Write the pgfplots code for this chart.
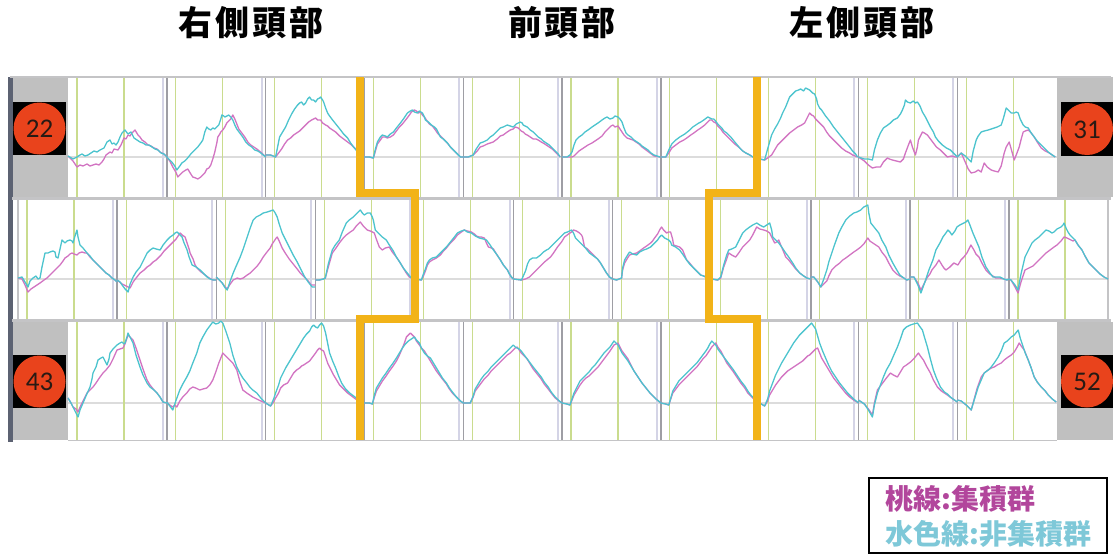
\documentclass[border=0pt]{standalone}
\usepackage{pgfplots}
\pgfplotsset{compat=1.18}
\usepackage{fontspec}
\newfontfamily\jp{Noto Sans CJK JP}
\newfontfamily\jpwide{Noto Sans CJK JP}[LetterSpace=8]
\newfontfamily\num{Carlito}

\definecolor{mag}{RGB}{210,116,194}
\definecolor{cya}{RGB}{76,196,206}
\definecolor{gold}{RGB}{242,179,24}
\definecolor{frame}{RGB}{196,196,198}
\definecolor{sepdark}{RGB}{158,158,164}
\definecolor{seplight}{RGB}{212,212,230}
\definecolor{onset}{RGB}{202,220,142}
\definecolor{base}{RGB}{220,220,220}
\definecolor{side}{RGB}{192,192,192}
\definecolor{edge}{RGB}{92,98,114}
\definecolor{badge}{RGB}{233,67,28}
\definecolor{badgetxt}{RGB}{40,26,20}
\definecolor{legm}{RGB}{178,70,156}
\definecolor{legc}{RGB}{126,200,216}

% one channel: left edge, baseline, oxy-Hb of the two groups (local px units)
\newcommand\chan[4]{%
  \addplot[mag, line width=1.3pt, line join=round,
    x filter/.expression={#1+x}, y filter/.expression={#2-y}] coordinates {#3};
  \addplot[cya, line width=1.3pt, line join=round,
    x filter/.expression={#1+x}, y filter/.expression={#2-y}] coordinates {#4};
}

\begin{document}
\begin{tikzpicture}
\begin{axis}[
  scale only axis, width=1113pt, height=557pt,
  xmin=0, xmax=1113, ymin=0, ymax=557, y dir=reverse,
  hide axis, clip=false]

\fill[white] (0,0) rectangle (1113,557);

% side blocks
\fill[side] (12,77) rectangle (68,197);
\fill[side] (12,322) rectangle (68,440);
\fill[side] (1057,77) rectangle (1113,197);
\fill[side] (1057,322) rectangle (1113,440);
\fill[edge] (8,77) rectangle (13,442);

% baselines
\draw[base, line width=1.2] (68,157) -- (1057,157);
\draw[base, line width=1.2] (18,279) -- (1108,279);
\draw[base, line width=1.2] (68,403) -- (1057,403);

% onset / offset markers and channel separators, rows 1 and 3
\pgfplotsinvokeforeach{0,...,9}{
  \draw[onset, line width=1.1] ({68+98.8*#1+9},77) -- ({68+98.8*#1+9},197);
  \draw[onset, line width=1.1] ({68+98.8*#1+56},77) -- ({68+98.8*#1+56},197);
  \draw[onset, line width=1.1] ({68+98.8*#1+9},322) -- ({68+98.8*#1+9},440);
  \draw[onset, line width=1.1] ({68+98.8*#1+56},322) -- ({68+98.8*#1+56},440);
}
\pgfplotsinvokeforeach{1,...,9}{
  \draw[seplight, line width=2] ({68+98.8*#1-4},77) -- ({68+98.8*#1-4},197);
  \draw[sepdark, line width=1.4] ({68+98.8*#1},77) -- ({68+98.8*#1},197);
  \draw[seplight, line width=2] ({68+98.8*#1-4},322) -- ({68+98.8*#1-4},440);
  \draw[sepdark, line width=1.4] ({68+98.8*#1},322) -- ({68+98.8*#1},440);
}
% row 2
\pgfplotsinvokeforeach{0,...,10}{
  \draw[onset, line width=1.1] ({18+99.1*#1+9},200) -- ({18+99.1*#1+9},320);
  \draw[onset, line width=1.1] ({18+99.1*#1+56},200) -- ({18+99.1*#1+56},320);
}
\pgfplotsinvokeforeach{1,...,10}{
  \draw[seplight, line width=2] ({18+99.1*#1-4},200) -- ({18+99.1*#1-4},320);
  \draw[sepdark, line width=1.4] ({18+99.1*#1},200) -- ({18+99.1*#1},320);
}

% frames
\draw[frame, line width=2.5] (10,77) -- (1111,77);
\draw[frame, line width=3] (12,198.5) -- (1111,198.5);
\draw[frame, line width=3] (12,320.5) -- (1111,320.5);
\draw[frame, line width=1.5] (68,440.5) -- (1057,440.5);
\draw[frame, line width=2] (18,200) -- (18,320);
\draw[frame, line width=2] (1108,200) -- (1108,320);

% ---- row 1: ch22 - ch31 ----
\chan{68}{157}
{(0,1)(5,-4)(9,-10)(12,-8)(15,-9)(19,-7)(22,-9)(25,-8)(28,-7)(31,-8)(34,-5)(36,-2)(38,2)(42,5)(44,4)(46,8)(50,7)(53,12)(56,19)(58,18)(60,22)(62,21)(64,24)(67,27)(70,22)(72,20)(74,17)(77,15)(80,12)(83,11)(86,9)(89,8)(92,5)(96,3)(99,0)}
{(0,1)(5,-2)(9,0)(12,2)(14,3)(17,1)(20,2)(23,4)(26,6)(29,5)(32,7)(36,9)(39,15)(42,17)(44,13)(46,14)(48,12)(50,15)(52,20)(54,24)(57,27)(60,23)(63,25)(66,19)(69,17)(72,15)(75,14)(78,12)(81,12)(84,10)(87,8)(90,7)(93,4)(96,3)(99,0)}
\chan{166.8}{157}
{(0,0)(3,-4)(6,-10)(9,-15)(11,-20)(14,-17)(16,-15)(19,-13)(21,-12)(24,-17)(26,-20)(29,-21)(31,-22)(34,-20)(36,-18)(38,-16)(40,-12)(42,-11)(44,-8)(46,-2)(48,5)(50,14)(51,20)(53,23)(54,25)(56,27)(58,30)(60,34)(62,36)(64,38)(66,42)(68,38)(70,33)(72,28)(75,24)(78,20)(81,15)(84,12)(87,10)(90,8)(95,4)(99,0)}
{(0,0)(5,-5)(8,-9)(10,-13)(13,-9)(15,-6)(18,-4)(20,-2)(24,3)(28,7)(31,10)(34,14)(36,17)(38,25)(40,30)(42,28)(44,27)(46,29)(48,28)(50,30)(52,32)(54,38)(55,42)(57,41)(58,40)(60,41)(62,42)(64,40)(66,37)(68,32)(70,28)(73,24)(76,20)(79,15)(82,12)(85,10)(88,7)(91,6)(94,4)(99,0)}
\chan{265.6}{157}
{(0,2)(5,2)(10,0)(13,4)(16,8)(19,13)(22,17)(25,19)(28,22)(31,24)(34,26)(37,29)(40,32)(43,35)(46,37)(48,38)(50,39)(52,37)(55,37)(57,34)(60,32)(62,31)(64,29)(67,27)(70,25)(74,21)(78,18)(82,15)(86,12)(89,9)(92,7)(96,3)(99,0)}
{(0,2)(5,2)(10,0)(12,10)(14,20)(17,25)(20,30)(23,37)(26,43)(29,48)(32,52)(34,54)(36,55)(38,52)(40,54)(42,58)(44,60)(46,57)(48,57)(50,55)(52,58)(54,59)(55,60)(57,57)(58,55)(60,49)(62,44)(64,41)(67,37)(71,32)(75,27)(78,23)(82,19)(85,14)(88,10)(92,5)(95,2)(99,0)}
\chan{364.4}{157}
{(0,0)(5,0)(9,-1)(11,6)(13,13)(16,17)(18,20)(21,20)(23,19)(26,20)(29,22)(32,26)(35,30)(38,33)(42,38)(45,42)(47,45)(50,47)(52,46)(54,44)(56,45)(58,42)(60,40)(62,37)(65,33)(68,31)(71,27)(73,24)(76,21)(79,18)(83,14)(86,10)(89,7)(92,4)(96,0)(99,0)}
{(0,0)(5,0)(9,-1)(11,8)(13,15)(16,20)(18,22)(21,21)(23,20)(26,23)(29,25)(32,29)(36,34)(39,38)(43,44)(46,46)(48,47)(50,45)(53,44)(55,46)(58,44)(60,40)(61,37)(64,35)(67,32)(70,30)(72,28)(74,24)(76,20)(79,18)(83,14)(86,10)(89,7)(92,4)(96,0)(99,0)}
\chan{463.2}{157}
{(0,0)(5,0)(10,2)(14,6)(17,10)(20,11)(24,13)(27,14)(30,15)(34,18)(37,21)(40,22)(44,25)(47,27)(50,28)(52,30)(55,29)(58,26)(60,25)(62,23)(64,22)(67,20)(70,18)(73,18)(75,17)(78,15)(80,14)(83,12)(86,10)(89,8)(92,5)(95,2)(97,0)}
{(0,0)(5,0)(10,2)(13,8)(17,14)(20,15)(24,17)(27,20)(30,22)(34,26)(37,29)(40,30)(44,32)(47,31)(50,30)(53,33)(57,35)(59,34)(60,32)(62,31)(64,30)(67,27)(70,25)(73,22)(75,20)(78,18)(80,16)(83,14)(86,12)(89,9)(92,6)(95,3)(97,0)}
\chan{562}{157}
{(0,0)(5,0)(10,0)(12,1)(14,3)(17,6)(20,8)(23,10)(26,12)(30,14)(33,16)(36,18)(40,21)(43,25)(46,28)(49,31)(51,32)(53,30)(56,31)(58,28)(60,25)(62,22)(65,19)(68,18)(71,17)(74,15)(77,13)(80,10)(84,7)(88,4)(92,1)(98,0)}
{(0,0)(5,0)(8,2)(10,5)(12,12)(14,17)(17,20)(20,22)(23,25)(26,27)(30,30)(33,32)(36,34)(40,37)(43,39)(45,40)(48,38)(51,39)(53,41)(56,40)(58,38)(60,35)(62,29)(64,24)(66,22)(69,20)(72,17)(75,15)(78,13)(80,11)(83,9)(86,7)(89,4)(92,2)(98,0)}
\chan{660.8}{157}
{(0,0)(5,0)(8,4)(11,9)(15,12)(19,15)(23,17)(26,19)(30,22)(33,24)(37,27)(40,29)(44,32)(47,35)(49,37)(51,37)(53,35)(55,34)(57,31)(60,28)(62,25)(65,22)(68,19)(70,17)(74,13)(79,9)(82,6)(85,4)(89,2)(92,0)(98,0)}
{(0,0)(5,0)(8,7)(11,13)(15,17)(19,20)(24,23)(29,27)(32,30)(35,32)(38,34)(40,35)(43,37)(47,40)(49,39)(51,38)(53,38)(54,37)(57,33)(61,29)(63,26)(66,24)(68,22)(70,20)(74,15)(79,9)(82,6)(85,4)(89,2)(92,0)(98,0)}
\chan{759.6}{157}
{(0,-2)(5,-3)(8,-1)(12,2)(15,7)(18,12)(21,15)(23,17)(27,21)(30,24)(34,27)(38,30)(42,32)(45,34)(47,38)(50,44)(52,42)(54,41)(56,38)(58,36)(61,33)(64,30)(67,25)(70,21)(74,17)(78,13)(82,9)(86,6)(90,4)(93,2)(98,0)}
{(0,-2)(5,-3)(8,8)(12,22)(15,28)(18,33)(21,39)(23,44)(26,50)(30,60)(33,63)(36,66)(39,67)(41,68)(44,66)(46,69)(48,68)(50,67)(53,64)(55,63)(57,58)(58,53)(60,49)(62,47)(66,41)(70,36)(74,30)(78,25)(82,20)(86,15)(90,10)(93,6)(96,3)(98,0)}
\chan{858.4}{157}
{(0,0)(3,-2)(6,-4)(10,-8)(14,-11)(18,-10)(22,-10)(25,-5)(27,-3)(29,-1)(31,-2)(34,-3)(38,-4)(42,-5)(45,-2)(47,4)(50,12)(52,17)(54,10)(57,2)(59,10)(60,17)(62,21)(64,25)(66,24)(69,22)(72,18)(75,14)(78,10)(82,7)(86,3)(89,0)(93,1)(97,0)(99,0)}
{(0,0)(3,-1)(6,-2)(10,-2)(14,-3)(16,7)(19,17)(22,24)(25,29)(28,31)(32,34)(35,37)(39,39)(42,43)(44,47)(46,52)(47,57)(49,55)(52,54)(55,56)(57,54)(59,55)(61,52)(62,50)(64,45)(67,40)(70,34)(72,30)(75,25)(77,20)(80,16)(84,12)(88,9)(92,7)(95,4)(97,2)(99,0)}
\chan{957.2}{157}
{(0,0)(4,4)(8,-5)(11,-12)(14,-16)(18,-15)(21,-13)(24,-15)(26,-9)(27,-6)(30,-10)(34,-13)(37,-14)(41,-15)(44,-9)(47,4)(49,10)(52,15)(54,8)(57,-3)(59,2)(62,10)(64,18)(66,25)(68,26)(71,27)(74,24)(77,20)(80,15)(84,9)(88,6)(92,4)(95,2)(98,0)}
{(0,0)(4,4)(8,1)(11,-2)(14,-5)(16,6)(19,17)(21,21)(24,25)(27,26)(31,27)(34,28)(37,29)(40,30)(44,32)(46,38)(49,49)(51,47)(54,44)(57,44)(59,45)(61,44)(63,38)(66,32)(68,30)(71,29)(74,24)(77,20)(80,16)(84,12)(88,8)(91,5)(95,2)(98,0)}

% ---- row 2: ch32 - ch42 ----
\chan{18}{279}
{(0,1)(4,0)(7,-6)(10,-13)(13,-10)(16,-8)(19,-6)(22,-4)(26,-1)(29,1)(32,4)(36,8)(39,11)(42,14)(45,18)(47,21)(50,23)(52,25)(54,26)(56,25)(59,24)(61,26)(64,27)(67,26)(69,26)(72,22)(75,19)(78,16)(82,12)(85,9)(88,6)(91,4)(94,1)(97,-1)(99,-3)}
{(0,1)(4,2)(7,-3)(10,-8)(12,-2)(15,1)(18,3)(20,0)(22,1)(24,12)(27,26)(30,26)(32,27)(35,28)(37,27)(38,22)(40,21)(42,30)(44,39)(46,37)(47,36)(49,38)(52,39)(54,38)(55,36)(57,43)(59,49)(60,42)(62,34)(65,31)(69,26)(72,23)(75,19)(78,16)(82,12)(85,9)(88,6)(91,4)(94,1)(97,-1)(99,-3)}
\chan{117.1}{279}
{(0,-1)(5,-5)(9,-7)(13,-9)(16,-3)(19,1)(23,6)(27,9)(30,12)(33,14)(36,17)(39,19)(41,21)(44,24)(47,28)(50,31)(53,34)(56,37)(59,40)(61,43)(63,46)(65,44)(68,42)(70,36)(72,30)(73,26)(76,20)(78,14)(80,11)(84,7)(88,4)(92,1)(96,-1)(99,-1)}
{(0,-1)(3,-3)(5,-6)(8,-10)(11,-13)(13,-5)(16,2)(19,7)(23,12)(26,18)(30,26)(33,29)(36,31)(39,30)(43,29)(46,34)(50,39)(53,42)(56,44)(58,46)(60,47)(62,45)(65,42)(67,36)(70,29)(72,22)(75,14)(79,12)(83,9)(86,6)(90,2)(93,0)(96,-1)(99,-1)}
\chan{216.2}{279}
{(0,2)(3,-1)(6,-4)(9,-8)(11,-10)(14,-5)(17,-1)(21,1)(24,0)(27,1)(31,4)(34,6)(37,9)(41,13)(44,17)(47,22)(50,26)(54,31)(56,35)(58,38)(60,41)(61,42)(63,38)(66,31)(69,26)(73,20)(77,15)(81,10)(84,6)(88,2)(92,-2)(95,-6)(99,-6)}
{(0,2)(3,-1)(6,-4)(9,-9)(11,-11)(14,-2)(17,6)(20,13)(24,22)(27,30)(31,42)(34,51)(37,59)(40,62)(44,64)(47,66)(51,67)(54,68)(57,69)(59,66)(61,62)(63,55)(66,46)(69,40)(73,32)(77,24)(81,17)(84,11)(88,3)(92,-3)(96,-8)(99,-8)}
\chan{315.3}{279}
{(0,-1)(4,-1)(8,0)(10,1)(13,12)(17,26)(20,30)(24,36)(28,41)(31,44)(35,47)(38,49)(41,53)(45,57)(48,53)(52,49)(55,48)(59,46)(61,40)(64,32)(67,29)(70,31)(74,32)(77,27)(81,22)(85,16)(88,11)(91,6)(94,2)(99,0)}
{(0,-1)(4,-1)(8,0)(10,1)(13,15)(17,29)(20,34)(24,39)(27,47)(31,56)(34,59)(38,62)(41,65)(45,69)(47,66)(49,64)(52,66)(55,66)(57,62)(58,59)(60,49)(63,46)(67,42)(71,39)(74,34)(78,28)(81,22)(85,16)(88,11)(92,6)(96,1)(99,0)}
\chan{414.4}{279}
{(0,0)(7,-1)(9,3)(11,8)(13,14)(15,17)(18,19)(22,21)(26,24)(29,28)(32,31)(36,36)(40,40)(43,44)(47,47)(50,49)(53,48)(57,47)(60,45)(62,43)(65,42)(67,42)(70,41)(72,36)(74,32)(77,31)(79,30)(82,25)(86,19)(89,14)(93,9)(95,5)(97,2)(99,0)}
{(0,0)(7,-1)(9,5)(11,10)(13,16)(15,19)(18,21)(22,22)(26,26)(29,29)(32,32)(36,37)(40,42)(43,46)(47,48)(50,49)(53,47)(57,46)(61,43)(65,41)(69,40)(72,39)(75,35)(79,29)(82,25)(86,19)(89,14)(93,9)(95,5)(97,2)(99,0)}
\chan{513.5}{279}
{(0,0)(8,-1)(12,0)(16,2)(21,7)(26,12)(31,17)(37,22)(40,26)(44,32)(48,37)(51,42)(55,45)(58,47)(60,49)(63,48)(66,46)(68,44)(69,42)(71,32)(74,30)(76,28)(80,24)(84,20)(87,16)(90,11)(93,6)(96,2)(99,0)}
{(0,0)(8,-1)(12,8)(14,15)(16,19)(19,21)(23,21)(27,24)(30,27)(33,29)(35,30)(37,32)(41,36)(44,39)(48,43)(51,46)(54,47)(56,48)(58,49)(60,46)(62,41)(65,38)(69,34)(72,31)(76,26)(80,23)(84,20)(87,16)(90,11)(93,6)(96,2)(99,0)}
\chan{612.6}{279}
{(0,0)(4,-1)(9,1)(10,9)(12,16)(15,21)(17,24)(20,25)(24,26)(27,28)(31,31)(34,33)(38,36)(40,38)(42,41)(45,45)(47,49)(49,52)(51,49)(54,46)(56,47)(58,47)(60,40)(61,34)(64,33)(67,32)(70,29)(72,24)(74,19)(77,16)(81,11)(85,7)(88,4)(91,3)(93,2)(99,0)}
{(0,0)(4,-1)(9,1)(10,11)(12,19)(15,24)(17,27)(20,25)(24,24)(27,27)(31,29)(34,30)(38,32)(41,35)(45,39)(47,42)(49,44)(51,42)(52,41)(54,40)(56,39)(58,37)(59,34)(63,32)(67,29)(70,25)(74,19)(77,15)(81,11)(85,7)(88,4)(91,3)(93,2)(99,0)}
\chan{711.7}{279}
{(0,0)(6,-1)(9,1)(12,12)(15,20)(17,26)(20,24)(24,22)(27,26)(31,32)(34,35)(38,39)(41,44)(45,52)(48,50)(52,49)(55,48)(58,46)(60,42)(63,36)(65,37)(67,39)(69,34)(72,27)(74,22)(77,19)(81,14)(84,10)(88,6)(92,3)(95,1)(99,0)}
{(0,0)(6,-1)(9,2)(12,14)(15,24)(17,29)(20,30)(24,32)(27,38)(31,46)(34,49)(38,52)(41,54)(45,56)(48,54)(52,52)(55,54)(58,56)(60,49)(61,42)(64,39)(67,36)(70,32)(74,26)(77,22)(81,16)(84,11)(88,6)(92,3)(95,1)(99,0)}
\chan{810.8}{279}
{(0,2)(3,2)(7,-3)(10,-8)(13,-5)(16,-2)(18,3)(21,9)(25,13)(29,16)(32,19)(35,21)(39,24)(43,27)(46,29)(50,32)(53,35)(55,38)(57,41)(59,38)(62,36)(65,34)(68,32)(71,27)(75,22)(78,16)(82,9)(86,5)(89,3)(93,1)(96,-1)(99,0)}
{(0,2)(3,2)(7,-3)(10,-8)(13,0)(16,9)(18,17)(21,26)(24,35)(28,46)(31,52)(35,59)(39,63)(43,66)(46,67)(50,69)(52,71)(53,72)(55,73)(57,74)(58,66)(60,56)(64,51)(68,46)(71,39)(75,32)(78,24)(82,16)(86,9)(89,4)(93,1)(96,-1)(99,0)}
\chan{909.9}{279}
{(0,2)(4,2)(8,-4)(11,-11)(14,-5)(17,1)(20,5)(22,9)(26,14)(29,19)(32,14)(34,11)(36,9)(40,12)(44,16)(48,14)(51,19)(54,22)(57,26)(59,30)(61,34)(64,29)(66,25)(69,22)(72,16)(76,9)(80,5)(83,3)(86,1)(90,1)(94,0)(97,-1)(99,0)}
{(0,2)(4,2)(8,-6)(11,-14)(15,-3)(19,9)(23,19)(26,29)(30,36)(33,42)(36,46)(38,49)(40,47)(42,44)(45,48)(47,52)(50,54)(54,56)(56,57)(58,59)(60,54)(63,46)(66,39)(69,32)(72,22)(76,12)(80,6)(83,2)(87,2)(90,2)(94,0)(97,-1)(99,0)}
\chan{1009}{279}
{(0,0)(2,-1)(6,-8)(9,-14)(12,-3)(16,9)(20,11)(24,13)(27,16)(31,20)(34,23)(37,26)(41,29)(45,32)(48,34)(52,38)(55,42)(58,41)(62,39)(64,38)(66,39)(69,34)(73,29)(76,23)(80,16)(84,12)(87,9)(91,5)(95,2)(99,0)}
{(0,0)(2,-1)(6,-6)(9,-11)(12,5)(16,22)(20,30)(23,36)(26,39)(30,42)(33,45)(37,49)(40,48)(43,46)(45,47)(48,50)(52,52)(54,54)(55,56)(57,51)(59,47)(61,44)(64,41)(66,39)(69,34)(73,29)(76,23)(80,16)(84,12)(87,9)(91,5)(95,2)(99,0)}

% ---- row 3: ch43 - ch52 ----
\chan{68}{403}
{(0,5)(3,0)(5,-4)(8,-6)(10,-9)(13,-2)(16,4)(19,10)(22,13)(25,16)(28,20)(32,26)(35,30)(38,33)(42,38)(45,44)(49,53)(52,54)(55,55)(57,59)(60,68)(62,66)(65,63)(68,55)(72,43)(75,34)(79,23)(82,18)(86,13)(89,10)(92,6)(95,1)(99,0)}
{(0,5)(3,0)(5,-4)(8,-10)(10,-14)(12,-7)(15,0)(18,7)(22,16)(24,24)(25,30)(28,36)(30,43)(33,45)(35,46)(37,42)(39,38)(41,44)(42,50)(45,54)(49,58)(52,60)(54,61)(56,59)(57,60)(59,66)(60,70)(62,66)(65,60)(68,48)(72,36)(75,28)(79,20)(82,16)(86,13)(89,10)(92,6)(95,1)(99,0)}
\chan{166.8}{403}
{(0,1)(3,-2)(6,-4)(8,-2)(10,-4)(13,2)(16,6)(20,10)(23,14)(26,16)(29,15)(33,13)(36,14)(40,15)(43,18)(46,23)(49,31)(52,40)(54,45)(56,50)(58,48)(60,46)(63,43)(66,40)(70,33)(73,22)(76,13)(80,10)(83,8)(86,6)(90,4)(94,2)(99,0)}
{(0,1)(3,-3)(6,-7)(9,2)(13,13)(16,19)(20,26)(23,32)(26,40)(30,50)(33,60)(36,66)(40,73)(43,77)(46,81)(49,79)(52,80)(54,82)(56,80)(59,72)(63,60)(66,48)(70,36)(73,30)(76,25)(80,20)(83,16)(86,13)(90,10)(94,5)(99,0)}
\chan{265.6}{403}
{(0,0)(5,-3)(8,1)(10,5)(13,10)(15,15)(18,18)(22,20)(25,25)(28,30)(31,33)(34,35)(36,37)(38,38)(41,40)(44,42)(47,46)(50,50)(52,53)(54,55)(56,53)(58,52)(60,46)(62,40)(65,34)(68,28)(71,23)(74,18)(78,14)(82,10)(86,7)(90,4)(94,2)(99,0)}
{(0,0)(5,-3)(8,4)(10,10)(13,18)(15,25)(18,31)(20,35)(23,40)(26,45)(29,50)(32,55)(35,60)(38,65)(41,69)(44,72)(46,76)(48,78)(50,76)(52,75)(54,78)(56,80)(58,77)(60,70)(62,60)(64,50)(67,42)(70,35)(73,27)(76,20)(80,14)(84,10)(88,7)(92,4)(96,2)(99,0)}
\chan{364.4}{403}
{(0,0)(5,0)(8,-1)(10,6)(12,12)(15,17)(18,22)(21,26)(25,32)(28,36)(32,42)(35,48)(38,55)(40,60)(42,66)(44,68)(46,70)(48,68)(50,66)(52,62)(55,58)(57,55)(60,52)(63,47)(66,42)(69,37)(72,32)(75,28)(78,24)(82,19)(85,14)(88,10)(92,6)(96,2)(99,0)}
{(0,0)(5,0)(8,-1)(10,8)(12,15)(15,20)(18,25)(21,29)(25,35)(28,39)(32,45)(35,50)(38,55)(41,59)(44,62)(47,64)(50,66)(52,63)(55,60)(57,55)(60,50)(63,47)(66,45)(69,40)(72,35)(75,30)(78,25)(82,20)(85,15)(88,11)(92,6)(96,2)(99,0)}
\chan{463.2}{403}
{(0,0)(7,0)(10,6)(12,12)(15,16)(18,20)(21,24)(25,28)(28,32)(32,36)(35,39)(38,42)(41,45)(44,48)(47,50)(50,53)(52,55)(54,56)(56,53)(58,50)(61,47)(64,44)(67,39)(70,34)(74,29)(78,24)(81,19)(85,14)(88,10)(92,5)(96,2)(99,0)}
{(0,0)(7,0)(10,7)(12,14)(15,19)(18,24)(21,28)(25,32)(28,36)(32,40)(35,43)(38,46)(41,49)(44,52)(47,55)(50,58)(52,56)(54,55)(56,54)(58,52)(61,48)(64,44)(67,40)(70,36)(74,31)(78,26)(81,21)(85,16)(88,11)(92,6)(96,2)(99,0)}
\chan{562}{403}
{(0,0)(5,-1)(8,-2)(10,3)(12,8)(15,13)(18,18)(21,22)(24,25)(27,27)(30,30)(33,33)(36,36)(39,40)(42,44)(45,48)(48,52)(50,55)(52,58)(54,59)(56,60)(58,56)(60,52)(63,48)(66,44)(69,38)(72,32)(76,26)(80,20)(84,15)(88,10)(91,7)(94,4)(99,0)}
{(0,0)(5,-1)(8,-2)(10,4)(12,10)(15,16)(18,22)(21,25)(24,28)(27,31)(30,35)(33,38)(36,42)(39,46)(42,50)(45,53)(48,56)(50,59)(52,62)(54,60)(56,58)(58,54)(60,50)(63,46)(66,42)(69,37)(72,32)(76,26)(80,20)(84,15)(88,10)(91,7)(94,4)(99,0)}
\chan{660.8}{403}
{(0,0)(5,-1)(8,-2)(10,4)(12,10)(15,14)(18,18)(21,21)(24,24)(27,27)(30,30)(33,33)(36,36)(39,40)(42,44)(45,47)(47,50)(49,53)(51,56)(53,58)(55,60)(57,56)(60,52)(63,46)(66,40)(69,36)(72,32)(76,26)(80,20)(84,15)(87,10)(90,7)(93,4)(99,0)}
{(0,0)(5,-1)(8,-2)(10,5)(12,12)(15,17)(18,22)(21,25)(24,28)(27,31)(30,34)(33,37)(36,40)(39,44)(42,48)(45,52)(47,55)(49,59)(51,62)(53,60)(55,58)(57,54)(60,50)(63,46)(66,42)(69,38)(72,34)(76,28)(80,22)(84,17)(87,12)(90,8)(93,5)(99,0)}
\chan{759.6}{403}
{(0,0)(5,-3)(8,2)(10,8)(13,13)(16,18)(19,22)(22,26)(25,29)(28,32)(31,34)(34,36)(37,38)(40,40)(43,42)(46,45)(48,47)(50,48)(52,50)(54,52)(56,54)(58,55)(60,50)(62,45)(65,40)(68,35)(71,30)(74,25)(78,20)(82,15)(86,10)(90,6)(94,3)(99,0)}
{(0,0)(5,-3)(8,4)(10,12)(13,20)(16,28)(19,34)(22,40)(25,45)(28,50)(31,55)(34,60)(37,64)(40,68)(42,70)(44,72)(46,74)(48,76)(50,78)(52,80)(54,77)(56,74)(58,67)(60,60)(63,52)(66,45)(69,38)(72,32)(76,26)(80,20)(84,15)(88,10)(91,7)(94,4)(99,0)}
\chan{858.4}{403}
{(0,3)(3,1)(6,-1)(10,-6)(14,-12)(16,0)(19,13)(22,17)(25,21)(28,25)(32,30)(35,28)(39,26)(42,31)(45,36)(48,38)(52,41)(56,45)(60,50)(62,47)(65,43)(68,37)(72,30)(75,23)(79,16)(83,12)(86,10)(89,8)(93,5)(96,3)(99,1)}
{(0,3)(3,1)(6,-1)(10,-7)(14,-14)(16,-2)(19,10)(22,18)(25,26)(28,33)(32,40)(35,47)(39,56)(42,64)(45,73)(48,76)(52,78)(55,79)(59,80)(61,77)(64,73)(66,66)(69,56)(72,44)(75,33)(78,25)(82,16)(86,11)(89,9)(92,6)(96,3)(99,1)}
\chan{957.2}{403}
{(0,3)(4,2)(9,-2)(14,-7)(17,4)(20,15)(24,26)(27,30)(31,33)(34,35)(37,36)(40,38)(44,40)(47,43)(51,46)(54,48)(57,51)(60,56)(62,60)(64,57)(67,53)(69,48)(71,43)(74,35)(77,26)(80,21)(84,16)(88,12)(91,8)(95,4)(99,1)}
{(0,3)(4,2)(9,-2)(14,-7)(17,3)(21,16)(24,23)(27,30)(31,33)(34,36)(37,40)(41,46)(44,52)(47,60)(50,62)(54,66)(57,68)(61,73)(63,65)(66,56)(68,50)(71,43)(74,35)(77,26)(80,21)(84,16)(88,12)(91,8)(95,4)(99,1)}

% region borders
\draw[gold, line width=8, line join=miter]
  (360,77) -- (360,193) -- (415,193) -- (415,319) -- (360,319) -- (360,440);
\draw[gold, line width=8, line join=miter]
  (756.5,77) -- (756.5,193) -- (709,193) -- (709,319) -- (756.5,319) -- (756.5,440);

% channel badges
\fill[black] (13,102) rectangle (66,155);
\fill[black] (13,355) rectangle (66,408);
\fill[black] (1061,102) rectangle (1113,156);
\fill[black] (1061,355) rectangle (1113,408);
\fill[badge] (39.5,128.5) circle[radius=26pt];
\fill[badge] (39.5,381.5) circle[radius=26pt];
\fill[badge] (1087,129) circle[radius=26pt];
\fill[badge] (1087,381.5) circle[radius=26pt];
\node[font=\num\fontsize{27}{27}\selectfont, text=badgetxt] at (39.5,129) {22};
\node[font=\num\fontsize{27}{27}\selectfont, text=badgetxt] at (39.5,382) {43};
\node[font=\num\fontsize{27}{27}\selectfont, text=badgetxt] at (1087,129.5) {31};
\node[font=\num\fontsize{27}{27}\selectfont, text=badgetxt] at (1087,382) {52};

% region titles
\node[font=\jpwide\bfseries\fontsize{34}{34}\selectfont] at (251,23) {右側頭部};
\node[font=\jpwide\bfseries\fontsize{34}{34}\selectfont] at (562,23) {前頭部};
\node[font=\jpwide\bfseries\fontsize{34}{34}\selectfont] at (862,23) {左側頭部};

% key
\draw[black, line width=2] (869,478) rectangle (1107,553);
\node[anchor=west, font=\jp\bfseries\fontsize{28}{28}\selectfont, text=legm] at (882,499) {桃線:集積群};
\node[anchor=west, font=\jp\bfseries\fontsize{28}{28}\selectfont, text=legc] at (882,534) {水色線:非集積群};

\end{axis}
\end{tikzpicture}
\end{document}
